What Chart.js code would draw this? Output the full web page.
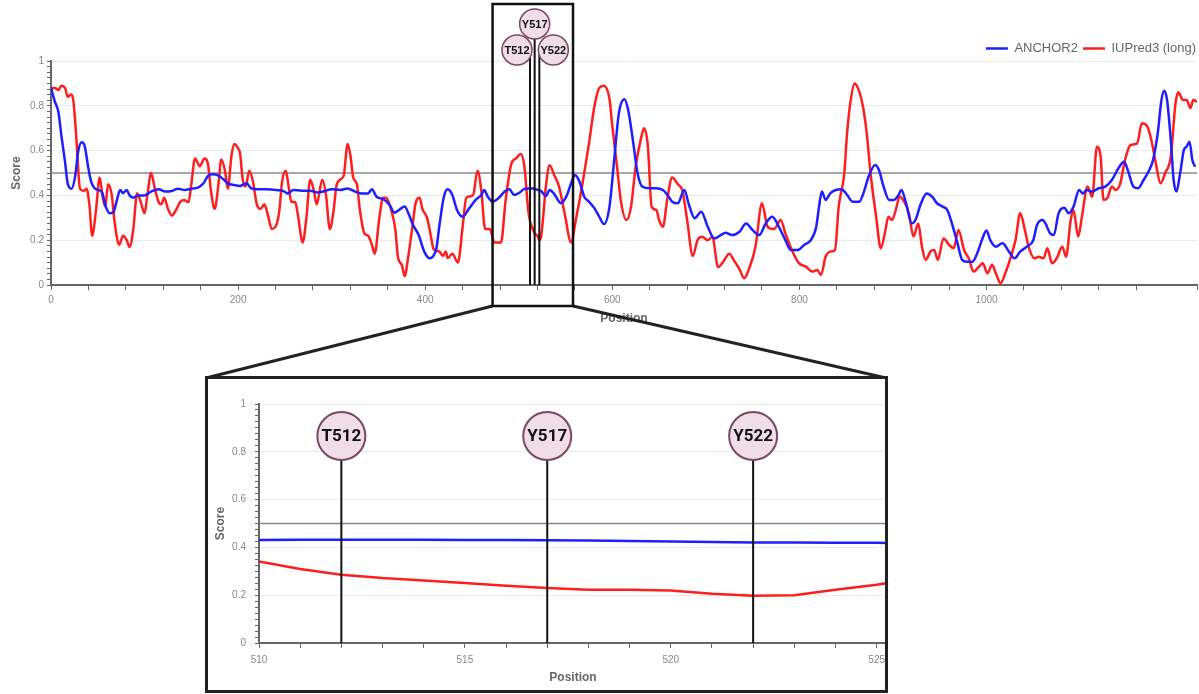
<!DOCTYPE html>
<html>
<head>
<meta charset="utf-8">
<script src="https://cdn.jsdelivr.net/npm/chart.js@4.4.1/dist/chart.umd.min.js"></script>
<style>
  html, body { margin: 0; padding: 0; background: #fff; }
  #wrap { position: relative; width: 1199px; height: 694px; overflow: hidden; }
  #top { position: absolute; left: 0; top: 0; }
  #zoomFrame { position: absolute; left: 205px; top: 376px; width: 683px; height: 317px;
               border: 3px solid #222; box-sizing: border-box; background: #fff; overflow: hidden; }
  #bottom { position: absolute; left: 0; top: 0; }
</style>
</head>
<body>
<div id="wrap">
  <canvas id="top" width="1201" height="694"></canvas>
  <div id="zoomFrame"><canvas id="bottom" width="683" height="311"></canvas></div>
</div>
<script>
// ---- data ----
var anchorPos = [0,4,8,11,15,18,22,26,29,33,36,40,43,47,51,55,58,63,67,70,74,77,81,84,88,93,100,107,115,122,129,136,143,150,157,163,168,173,179,184,189,196,202,209,214,221,230,241,248,253,259,268,277,285,293,300,309,317,325,332,339,343,348,355,362,367,372,378,382,387,393,399,405,408,412,415,420,424,429,434,440,447,454,460,463,467,472,478,485,490,495,501,506,510,515,520,524,529,533,538,545,551,556,560,565,570,575,581,586,591,597,602,607,613,617,622,627,632,640,647,654,659,664,670,677,682,688,695,702,709,716,721,728,736,743,750,757,764,771,778,785,791,798,805,812,818,821,824,828,833,839,845,851,857,864,869,874,881,885,890,896,901,906,909,914,920,924,930,936,942,947,953,958,963,969,974,979,985,990,995,1000,1004,1010,1017,1024,1030,1036,1043,1050,1054,1060,1063,1068,1072,1077,1083,1088,1093,1099,1103,1107,1113,1120,1127,1134,1141,1147,1151,1157,1162,1168,1174,1178,1183,1187,1190,1193,1197,1200,1203,1207,1211,1214,1217,1220,1223];
var anchorScore = [0.88,0.82,0.77,0.67,0.55,0.45,0.43,0.49,0.595,0.637,0.62,0.52,0.46,0.43,0.424,0.41,0.357,0.32,0.327,0.372,0.424,0.41,0.424,0.40,0.39,0.40,0.40,0.417,0.428,0.417,0.42,0.43,0.424,0.43,0.435,0.454,0.488,0.494,0.488,0.473,0.454,0.446,0.442,0.454,0.431,0.427,0.427,0.424,0.42,0.409,0.424,0.421,0.421,0.413,0.42,0.428,0.424,0.431,0.417,0.409,0.409,0.428,0.394,0.384,0.357,0.323,0.335,0.35,0.32,0.268,0.223,0.149,0.119,0.126,0.164,0.26,0.394,0.427,0.402,0.335,0.305,0.342,0.38,0.402,0.424,0.394,0.372,0.386,0.417,0.427,0.402,0.413,0.429,0.431,0.431,0.425,0.419,0.397,0.424,0.406,0.365,0.397,0.454,0.491,0.461,0.394,0.372,0.342,0.305,0.272,0.35,0.558,0.766,0.829,0.78,0.647,0.499,0.44,0.432,0.432,0.424,0.402,0.372,0.365,0.424,0.357,0.298,0.327,0.26,0.208,0.223,0.233,0.223,0.238,0.275,0.245,0.223,0.275,0.305,0.26,0.2,0.156,0.156,0.179,0.2,0.26,0.35,0.417,0.38,0.409,0.424,0.427,0.402,0.372,0.372,0.417,0.484,0.536,0.513,0.439,0.38,0.38,0.402,0.424,0.365,0.275,0.29,0.365,0.409,0.394,0.365,0.35,0.335,0.275,0.186,0.112,0.104,0.104,0.141,0.2,0.243,0.2,0.171,0.186,0.149,0.119,0.149,0.171,0.2,0.268,0.29,0.275,0.23,0.223,0.32,0.345,0.32,0.35,0.424,0.409,0.424,0.417,0.432,0.439,0.469,0.521,0.55,0.513,0.439,0.432,0.469,0.513,0.558,0.677,0.826,0.867,0.826,0.647,0.469,0.417,0.5,0.603,0.618,0.64,0.558,0.528];

var iupredPos = [0,4,8,11,15,18,21,24,27,31,35,38,41,44,48,52,55,58,61,65,68,73,77,81,84,88,92,96,100,103,107,111,115,118,121,125,129,133,138,142,147,150,154,159,164,168,171,175,179,182,186,189,193,196,200,202,205,208,212,216,220,224,228,232,236,240,244,247,251,254,257,261,264,269,273,277,281,284,290,294,298,302,305,309,313,317,320,323,327,330,335,339,343,346,351,355,358,361,364,368,371,375,378,382,386,390,394,397,402,406,409,415,419,422,424,429,435,440,444,451,456,460,464,469,474,481,486,492,497,502,506,510,512,515,517,520,522,524,526,529,533,538,543,549,556,561,568,575,581,586,591,597,600,605,609,615,620,625,631,634,638,642,647,650,654,659,664,670,675,680,686,691,696,702,707,713,718,725,730,736,741,746,753,760,766,773,780,785,792,799,807,814,819,823,828,833,838,842,848,851,855,859,864,868,872,876,882,887,892,895,899,903,907,912,917,922,927,931,935,940,944,948,954,960,965,970,976,981,986,992,996,1001,1006,1010,1015,1020,1026,1031,1036,1041,1045,1051,1056,1061,1065,1070,1075,1081,1085,1090,1093,1098,1102,1108,1113,1118,1122,1125,1129,1134,1138,1143,1148,1154,1161,1166,1172,1177,1181,1186,1191,1197,1202,1205,1210,1214,1218,1221,1225];
var iupredScore = [0.88,0.88,0.87,0.89,0.88,0.84,0.85,0.82,0.66,0.43,0.42,0.43,0.36,0.22,0.33,0.48,0.40,0.35,0.45,0.40,0.28,0.18,0.22,0.20,0.17,0.25,0.41,0.37,0.32,0.40,0.50,0.43,0.37,0.36,0.39,0.34,0.31,0.33,0.37,0.38,0.37,0.45,0.565,0.53,0.565,0.535,0.42,0.34,0.45,0.56,0.51,0.43,0.58,0.63,0.61,0.59,0.47,0.44,0.51,0.46,0.36,0.34,0.36,0.31,0.25,0.26,0.33,0.46,0.51,0.44,0.37,0.37,0.31,0.19,0.30,0.47,0.42,0.36,0.47,0.40,0.25,0.33,0.44,0.47,0.49,0.63,0.58,0.48,0.45,0.34,0.23,0.22,0.18,0.14,0.30,0.39,0.39,0.37,0.33,0.25,0.12,0.09,0.04,0.13,0.25,0.37,0.39,0.34,0.30,0.22,0.16,0.15,0.13,0.15,0.12,0.14,0.10,0.26,0.39,0.40,0.51,0.42,0.25,0.25,0.19,0.19,0.38,0.54,0.565,0.585,0.53,0.34,0.285,0.25,0.23,0.22,0.20,0.22,0.30,0.44,0.535,0.49,0.44,0.32,0.19,0.29,0.45,0.63,0.80,0.88,0.89,0.83,0.71,0.53,0.38,0.29,0.35,0.53,0.66,0.70,0.62,0.35,0.335,0.29,0.26,0.39,0.48,0.45,0.42,0.29,0.13,0.20,0.215,0.20,0.215,0.08,0.10,0.14,0.11,0.07,0.03,0.07,0.17,0.365,0.26,0.25,0.29,0.23,0.156,0.10,0.082,0.06,0.067,0.045,0.126,0.149,0.156,0.35,0.50,0.68,0.83,0.90,0.863,0.796,0.677,0.50,0.305,0.164,0.246,0.305,0.29,0.335,0.394,0.372,0.32,0.216,0.275,0.171,0.112,0.149,0.156,0.112,0.208,0.179,0.164,0.246,0.156,0.119,0.06,0.082,0.097,0.052,0.09,0.052,0.008,0.052,0.126,0.20,0.32,0.246,0.171,0.119,0.126,0.119,0.164,0.097,0.119,0.171,0.126,0.29,0.335,0.216,0.305,0.44,0.394,0.617,0.573,0.38,0.387,0.44,0.424,0.454,0.558,0.625,0.632,0.722,0.707,0.632,0.543,0.454,0.50,0.573,0.81,0.86,0.826,0.826,0.79,0.826,0.818];

// zoomed window 510-525 (plus the next residue, clipped at the panel edge)
var zoomPos = [510,511,512,513,514,515,516,517,518,519,520,521,522,523,524,525,526];
var zoomAnchor = [0.431,0.432,0.432,0.432,0.432,0.431,0.431,0.43,0.429,0.427,0.425,0.423,0.421,0.42,0.419,0.419,0.418];
var zoomIupred = [0.341,0.31,0.286,0.272,0.262,0.251,0.24,0.23,0.223,0.223,0.22,0.206,0.198,0.2,0.223,0.244,0.27];

var sites = ['T512', 'Y517', 'Y522'];
var sitePos = [512, 517, 522];
var cutoff = 0.5;
var boxRange = [472, 558];   // region framed on the full-length plot

var BLUE = '#1e1eff', RED = '#ff1e1e';
Chart.defaults.font.family = '"Liberation Sans", Arial, sans-serif';

function pts(xs, ys) { return xs.map(function (x, i) { return {x: x, y: ys[i]}; }); }
function isMajor(v) { return Math.abs(v * 5 - Math.round(v * 5)) < 1e-6; }

function yScale(titlePad, tickPad) {
  return {
    min: 0, max: 1,
    afterFit: function (s) { s.width = 51; },
    ticks: { stepSize: 0.025, autoSkip: false, color: '#888', font: {size: 10}, padding: tickPad,
             callback: function (v) { return isMajor(v) ? String(Math.round(v * 10) / 10) : ''; } },
    grid: { color: function (c) { return isMajor(c.tick.value) ? '#ebebeb' : 'transparent'; },
            tickColor: '#666', tickLength: 4 },
    border: { color: '#666', width: 2 },
    title: { display: true, text: 'Score', color: '#666', font: {size: 12, weight: 'bold'},
             padding: {top: titlePad, bottom: 0} }
  };
}

// 0.5 cut-off line
var cutoffPlugin = {
  id: 'cutoff',
  beforeDatasetsDraw: function (chart) {
    var a = chart.chartArea, y = chart.scales.y.getPixelForValue(cutoff), ctx = chart.ctx;
    ctx.save();
    ctx.strokeStyle = '#888'; ctx.lineWidth = 1.5;
    ctx.beginPath(); ctx.moveTo(a.left, y); ctx.lineTo(a.right, y); ctx.stroke();
    ctx.restore();
  }
};

function drawSite(ctx, lx, cx, cy, r, yEnd, label, font, lw) {
  ctx.strokeStyle = '#111'; ctx.lineWidth = lw;
  ctx.beginPath(); ctx.moveTo(lx, cy); ctx.lineTo(lx, yEnd); ctx.stroke();
  ctx.beginPath(); ctx.arc(cx, cy, r, 0, Math.PI * 2);
  ctx.fillStyle = '#f0dde7'; ctx.fill();
  ctx.strokeStyle = '#7a4862'; ctx.lineWidth = r > 20 ? 2 : 1.5; ctx.stroke();
  ctx.fillStyle = '#111'; ctx.font = font;
  ctx.textAlign = 'center'; ctx.textBaseline = 'middle';
  ctx.fillText(label, cx, cy + 1);
}

var topMarks = {
  id: 'topMarks',
  afterLayout: function (chart) {
    // drop the legend a little, as in the figure
    chart.legend.top += 4; chart.legend.bottom += 4;
  },
  afterDraw: function (chart) {
    var ctx = chart.ctx, xs = chart.scales.x, a = chart.chartArea;
    var x0 = xs.getPixelForValue(boxRange[0]), x1 = xs.getPixelForValue(boxRange[1]);
    ctx.save();
    // connectors down to the zoom panel
    ctx.strokeStyle = '#222'; ctx.lineWidth = 3;
    ctx.beginPath(); ctx.moveTo(x0, 306); ctx.lineTo(206, 378); ctx.stroke();
    ctx.beginPath(); ctx.moveTo(x1, 306); ctx.lineTo(886, 378); ctx.stroke();
    ctx.strokeStyle = '#111'; ctx.lineWidth = 2.5;
    ctx.strokeRect(x0, 4, x1 - x0, 302);
    var dx = [-13, 0, 14], cy = [50, 24, 50];
    sites.forEach(function (s, i) {
      var lx = xs.getPixelForValue(sitePos[i]);
      drawSite(ctx, lx, lx + dx[i], cy[i], 15, a.bottom, s, 'bold 11px "Liberation Sans", Arial, sans-serif', 2);
    });
    ctx.restore();
  }
};

var zoomMarks = {
  id: 'zoomMarks',
  afterDraw: function (chart) {
    var ctx = chart.ctx, xs = chart.scales.x, a = chart.chartArea;
    ctx.save();
    sites.forEach(function (s, i) {
      var lx = xs.getPixelForValue(sitePos[i]);
      drawSite(ctx, lx, lx, 57, 24, a.bottom, s, 'bold 17px Roboto, sans-serif', 2);
    });
    ctx.restore();
  }
};

new Chart(document.getElementById('top'), {
  type: 'line',
  data: {
    datasets: [
      { label: 'ANCHOR2', data: pts(anchorPos, anchorScore), borderColor: BLUE, backgroundColor: BLUE,
        borderWidth: 2.5, pointRadius: 0, cubicInterpolationMode: 'monotone' },
      { label: 'IUPred3 (long)', data: pts(iupredPos, iupredScore), borderColor: RED, backgroundColor: RED,
        borderWidth: 2.5, pointRadius: 0, cubicInterpolationMode: 'monotone' }
    ]
  },
  options: {
    responsive: false, animation: false,
    layout: { autoPadding: false, padding: {left: 0, right: 0, top: 33, bottom: 364} },
    plugins: {
      legend: { align: 'end',
        labels: { usePointStyle: true, pointStyle: 'line', pointStyleWidth: 22, color: '#666',
                  font: {size: 13}, padding: 5 } },
      tooltip: { enabled: false }
    },
    scales: {
      x: {
        type: 'linear', min: 0, max: 1225,
        afterFit: function (s) { s.height = 45; },
        ticks: { stepSize: 40, autoSkip: false, maxRotation: 0, color: '#888', font: {size: 10}, padding: 4,
                 callback: function (v) { return v % 200 === 0 ? String(v) : ''; } },
        grid: { color: 'transparent', tickColor: '#666', tickLength: 5 },
        border: { color: '#666', width: 2 },
        title: { display: true, text: 'Position', color: '#666', font: {size: 12, weight: 'bold'},
                 padding: {top: 0, bottom: 4} }
      },
      y: yScale(9, 3)
    }
  },
  plugins: [cutoffPlugin, topMarks]
});

new Chart(document.getElementById('bottom'), {
  type: 'line',
  data: {
    datasets: [
      { label: 'ANCHOR2', data: pts(zoomPos, zoomAnchor), borderColor: BLUE, borderWidth: 2.5, pointRadius: 0 },
      { label: 'IUPred3 (long)', data: pts(zoomPos, zoomIupred), borderColor: RED, borderWidth: 2.5, pointRadius: 0 }
    ]
  },
  options: {
    responsive: false, animation: false,
    layout: { autoPadding: false, padding: {left: 0, right: 0, top: 25, bottom: 0} },
    plugins: { legend: { display: false }, tooltip: { enabled: false } },
    scales: {
      x: {
        type: 'linear', min: 510, max: 525.25,
        afterFit: function (s) { s.height = 47; },
        ticks: { stepSize: 1, includeBounds: false, autoSkip: false, maxRotation: 0, color: '#888',
                 font: {size: 10}, padding: 6,
                 callback: function (v) { return v % 5 === 0 ? String(v) : ''; } },
        grid: { color: 'transparent', tickColor: '#666', tickLength: 5 },
        border: { color: '#666', width: 2 },
        title: { display: true, text: 'Position', color: '#666', font: {size: 12, weight: 'bold'},
                 padding: {top: 0, bottom: 5} }
      },
      y: yScale(5, 9)
    }
  },
  plugins: [cutoffPlugin, zoomMarks]
});
</script>
</body>
</html>
